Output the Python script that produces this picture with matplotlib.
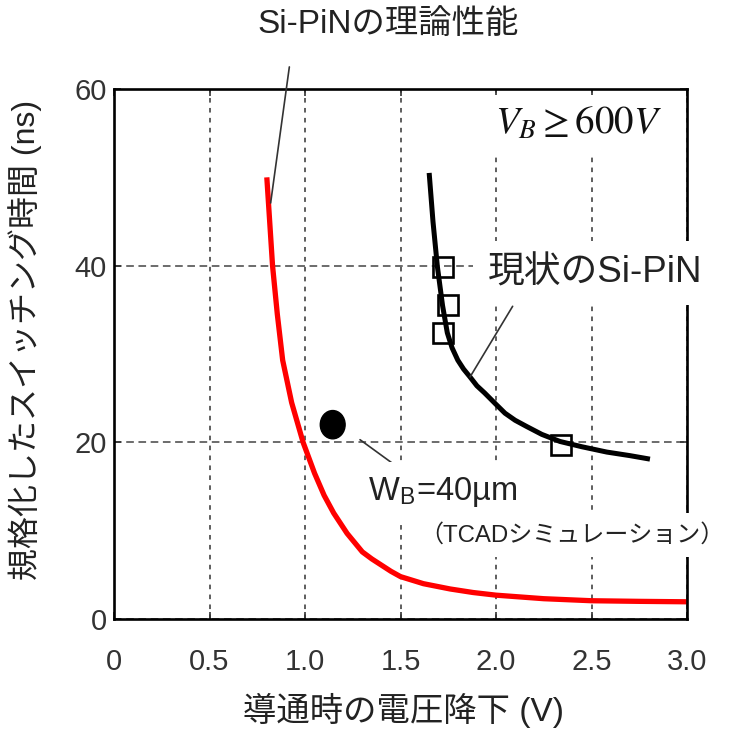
import matplotlib
matplotlib.use('Agg')
import matplotlib.pyplot as plt
from matplotlib.patches import Ellipse

plt.rcParams.update({
    'font.family': ['Liberation Sans', 'Noto Sans CJK JP'],
    'mathtext.fontset': 'stix',
    'axes.unicode_minus': False,
})

# Theoretical Si-PiN limit (red)
theory_v = [0.80, 0.815, 0.83, 0.855, 0.883, 0.93, 0.99, 1.05, 1.10, 1.15, 1.22, 1.30,
            1.35, 1.40, 1.45, 1.50, 1.62, 1.76, 1.88, 2.00, 2.25, 2.50, 2.75, 3.00]
theory_t = [50.0, 45.0, 40.0, 34.5, 29.3, 24.5, 20.0, 16.5, 14.0, 12.0, 9.7, 7.6,
            6.8, 6.1, 5.4, 4.8, 4.0, 3.4, 3.0, 2.7, 2.3, 2.07, 2.0, 1.95]

# Present Si-PiN trend (black)
current_v = [1.65, 1.67, 1.693, 1.72, 1.745, 1.77, 1.80, 1.83, 1.864, 1.90, 1.94,
             2.00, 2.047, 2.10, 2.16, 2.24, 2.335, 2.45, 2.58, 2.70, 2.806]
current_t = [50.5, 45.0, 39.9, 35.5, 32.4, 30.7, 29.3, 28.3, 27.4, 26.4, 25.6,
             24.3, 23.3, 22.5, 21.8, 20.9, 20.1, 19.5, 18.9, 18.5, 18.1]

# Measured devices (open squares)
meas_v = [1.72, 1.75, 1.72, 2.34]
meas_t = [39.8, 35.6, 32.4, 19.7]

# TCAD result, W_B = 40 um
tcad_v = 1.145
tcad_t = 22.0

xticks = [0, 0.5, 1.0, 1.5, 2.0, 2.5, 3.0]
xticklabels = ['0', '0.5', '1.0', '1.5', '2.0', '2.5', '3.0']
yticks = [0, 20, 40, 60]

fig = plt.figure(figsize=(7.29, 7.35), dpi=100)
ax = fig.add_axes([0.1564, 0.1578, 0.786, 0.7211])

ax.set_xlim(0, 3.0)
ax.set_ylim(0, 60)
ax.set_xticks(xticks)
ax.set_xticklabels(xticklabels)
ax.set_yticks(yticks)
ax.tick_params(direction='in', length=5, width=1.2, top=True, right=True,
               labelsize=21, colors='#333333')
ax.tick_params(axis='x', pad=21)
ax.tick_params(axis='y', pad=5)

for s in ax.spines.values():
    s.set_linewidth(1.9)
    s.set_color('black')

ax.xaxis.grid(True, linestyle=(0, (3, 3.5)), color='#333333', linewidth=1.1)
ax.yaxis.grid(True, linestyle=(0, (5, 3)), color='#444444', linewidth=1.1)
ax.set_axisbelow(True)

ax.plot(theory_v, theory_t, color='red', linewidth=3.8, solid_capstyle='butt',
        solid_joinstyle='round', zorder=2)
ax.plot(current_v, current_t, color='black', linewidth=3.6, solid_capstyle='butt',
        solid_joinstyle='round', zorder=2)
ax.plot(meas_v, meas_t, 's', markersize=14, markerfacecolor='none',
        markeredgecolor='black', markeredgewidth=1.9, zorder=2.2)
ax.add_patch(Ellipse((tcad_v, tcad_t), width=0.13, height=3.2,
                     facecolor='black', edgecolor='black', zorder=2.2))

ax.set_xlabel('導通時の電圧降下 (V)', fontsize=24, color='#222222')
ax.set_ylabel('規格化したスイッチング時間 (ns)', fontsize=23, color='#222222')
ax.xaxis.set_label_coords(0.506, -0.14)
ax.yaxis.set_label_coords(-0.125, 0.526)

line_kw = dict(arrowstyle='-', color='#333333', lw=1.2, shrinkA=0, shrinkB=0)

# leader lines
ax.annotate('', xy=(0.820, 47.1), xytext=(0.918, 62.5), arrowprops=line_kw,
            annotation_clip=False)
ax.annotate('', xy=(1.864, 27.4), xytext=(2.087, 35.4), arrowprops=line_kw)
ax.annotate('', xy=(1.501, 16.95), xytext=(1.288, 20.3), arrowprops=line_kw)

ax.text(1.435, 67.3, 'Si-PiNの理論性能', fontsize=24, color='#222222',
        ha='center', va='center', clip_on=False)
ax.text(1.958, 39.2, '現状のSi-PiN', fontsize=26.5, color='#222222',
        ha='left', va='center', clip_on=False, zorder=5,
        bbox=dict(facecolor='white', edgecolor='none', boxstyle='square,pad=0.4'))
ax.text(1.33, 14.4, r'W$_\mathregular{B}$=40µm', fontsize=23.5, color='#222222',
        ha='left', va='center', clip_on=False, zorder=5,
        bbox=dict(facecolor='white', edgecolor='none', boxstyle='square,pad=0.4'))
ax.text(1.60, 9.5, '（TCADシミュレーション）', fontsize=17.3, color='#222222',
        ha='left', va='center', clip_on=False, zorder=5,
        bbox=dict(facecolor='white', edgecolor='none', boxstyle='square,pad=0.45'))
ax.text(1.995, 56.0, r'$V_B \geq 600V$', fontsize=28, color='#111111',
        ha='left', va='center', clip_on=False, zorder=5,
        bbox=dict(facecolor='white', edgecolor='none', boxstyle='square,pad=0.3'))

fig.savefig('out.png', dpi=100)
